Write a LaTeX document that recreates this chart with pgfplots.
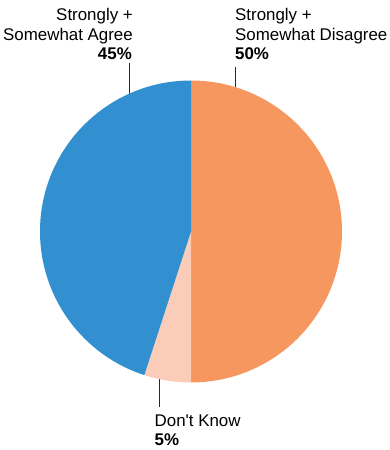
\documentclass[border=0pt]{standalone}
\usepackage{pgfplots}
\pgfplotsset{compat=1.18}
\usepackage{fontspec}
\setmainfont{Liberation Sans}
\definecolor{cDis}{HTML}{F5975E}
\definecolor{cDK}{HTML}{FBCDB8}
\definecolor{cAgr}{HTML}{3290D0}
% data (percent)
\def\vDis{50}
\def\vDK{5}
\def\vAgr{45}
\begin{document}
\begin{tikzpicture}[x=1pt,y=1pt]
\useasboundingbox (0,0) rectangle (390,450);
% leader lines
\draw[black!85, line width=1pt] (129.5,450-63) -- (129.5,450-96);
\draw[black!85, line width=1pt] (235.7,450-67) -- (235.7,450-90);
\draw[black!85, line width=1pt] (159.3,450-376) -- (159.3,450-407);
\begin{axis}[
  hide axis, scale only axis,
  width=302pt, height=302pt,
  xmin=-1, xmax=1, ymin=-1, ymax=1,
  at={(191pt,218.5pt)}, anchor=center,
  clip=false,
]
\addplot[draw=none, forget plot] coordinates {(0,0)};
\fill[cDis] (axis cs:0,0) -- (axis cs:0,1) arc[start angle=90, delta angle={-3.6*\vDis}, radius=151pt] -- cycle;
\fill[cDK] (axis cs:0,0) -- (axis cs:0,-1) arc[start angle=-90, delta angle={-3.6*\vDK}, radius=151pt] -- cycle;
\fill[cAgr] (axis cs:0,0) -- (axis cs:0,1) arc[start angle=90, delta angle={3.6*\vAgr}, radius=151pt] -- cycle;
\end{axis}
\begin{scope}[every node/.style={inner sep=0pt, font=\fontsize{16.9}{19.5}\selectfont}]
% left label
\node[anchor=base east] at (133,450-20.7) {Strongly +};
\node[anchor=base east] at (133,450-40.3) {Somewhat Agree};
\node[anchor=base east] at (132,450-60) {\bfseries 45\%};
% right label
\node[anchor=base west] at (235,450-20.7) {Strongly +};
\node[anchor=base west] at (235,450-40.3) {Somewhat Disagree};
\node[anchor=base west] at (235,450-60) {\bfseries 50\%};
% bottom label
\node[anchor=base west] at (154.5,450-426.5) {Don\textquotesingle t Know};
\node[anchor=base west] at (154.5,450-445.5) {\bfseries 5\%};
\end{scope}
\end{tikzpicture}
\end{document}
